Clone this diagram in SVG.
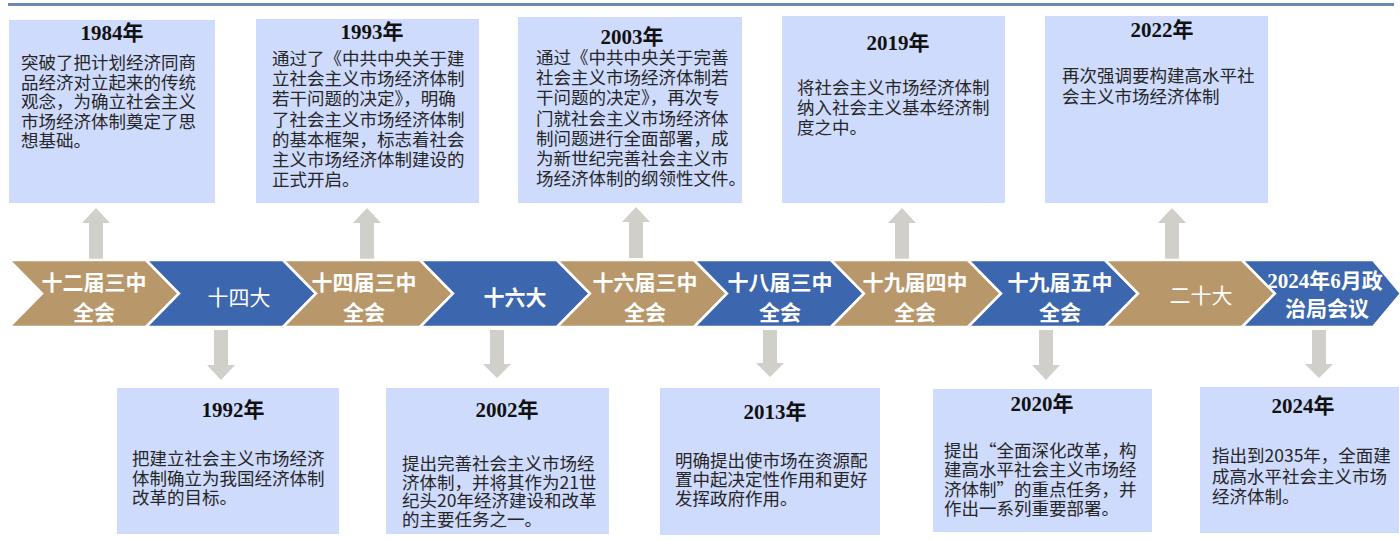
<svg xmlns="http://www.w3.org/2000/svg" width="1400" height="540" viewBox="0 0 1400 540">
<style>
.box{fill:#cfdbfc}
.chev-g{fill:#b8976a;stroke:#ffffff;stroke-width:2.5}
.chev-b{fill:#3c66ae;stroke:#ffffff;stroke-width:2.5}
.arrow{fill:#d1cfca}
.title{font-family:"Liberation Serif","Noto Sans CJK SC",serif;font-weight:bold;font-size:21px;fill:#111111;text-anchor:middle}
.body{font-family:"Noto Sans CJK SC",sans-serif;font-size:17.5px;fill:#262626}
.lab{font-family:"Liberation Serif","Noto Sans CJK SC",serif;font-weight:bold;font-size:21px;fill:#ffffff;text-anchor:middle}
.labn{font-family:"Noto Sans CJK SC",sans-serif;font-weight:normal;font-size:21px;fill:#ffffff;text-anchor:middle}
</style>
<rect x="8" y="3" width="1386" height="3" fill="#6d87b3"/>

<g id="connectors">
<polygon class="arrow" points="96,208 110,223 103,223 103,259 89,259 89,223 82,223"/>
<polygon class="arrow" points="367,208 381,223 374,223 374,259 360,259 360,223 353,223"/>
<polygon class="arrow" points="636,207 650,222 643,222 643,258 629,258 629,222 622,222"/>
<polygon class="arrow" points="902,208 916,223 909,223 909,259 895,259 895,223 888,223"/>
<polygon class="arrow" points="1172,208 1186,223 1179,223 1179,259 1165,259 1165,223 1158,223"/>
<polygon class="arrow" points="214,330 228,330 228,365 235,365 221,380 207,365 214,365"/>
<polygon class="arrow" points="490,330 504,330 504,364 511,364 497,378 483,364 490,364"/>
<polygon class="arrow" points="763,330 777,330 777,363 784,363 770,377 756,363 763,363"/>
<polygon class="arrow" points="1039,330 1053,330 1053,365 1060,365 1046,380 1032,365 1039,365"/>
<polygon class="arrow" points="1312,330 1326,330 1326,364 1333,364 1319,378 1305,364 1312,364"/>
</g>

<g id="chev1"><polygon class="chev-g" points="9,260 146,260 179,293.5 146,327 9,327 42,293.5"/><text class="lab" x="94" y="290">十二届三中</text><text class="lab" x="94" y="320">全会</text></g>
<g id="chev2"><polygon class="chev-b" points="146,260 283,260 316,293.5 283,327 146,327 179,293.5"/><text class="labn" x="239" y="305">十四大</text></g>
<g id="chev3"><polygon class="chev-g" points="283,260 420,260 453,293.5 420,327 283,327 316,293.5"/><text class="lab" x="364" y="290">十四届三中</text><text class="lab" x="364" y="320">全会</text></g>
<g id="chev4"><polygon class="chev-b" points="420,260 557,260 590,293.5 557,327 420,327 453,293.5"/><text class="lab" x="515" y="305">十六大</text></g>
<g id="chev5"><polygon class="chev-g" points="557,260 694,260 727,293.5 694,327 557,327 590,293.5"/><text class="lab" x="645" y="290">十六届三中</text><text class="lab" x="645" y="320">全会</text></g>
<g id="chev6"><polygon class="chev-b" points="694,260 831,260 864,293.5 831,327 694,327 727,293.5"/><text class="lab" x="780" y="290">十八届三中</text><text class="lab" x="780" y="320">全会</text></g>
<g id="chev7"><polygon class="chev-g" points="831,260 968,260 1001,293.5 968,327 831,327 864,293.5"/><text class="lab" x="915" y="290">十九届四中</text><text class="lab" x="915" y="320">全会</text></g>
<g id="chev8"><polygon class="chev-b" points="968,260 1105,260 1138,293.5 1105,327 968,327 1001,293.5"/><text class="lab" x="1060" y="290">十九届五中</text><text class="lab" x="1060" y="320">全会</text></g>
<g id="chev9"><polygon class="chev-g" points="1105,260 1242,260 1275,293.5 1242,327 1105,327 1138,293.5"/><text class="labn" x="1201" y="303">二十大</text></g>
<g id="chev10"><polygon class="chev-b" points="1242,260 1373,260 1401,293.5 1373,327 1242,327 1275,293.5"/><text class="lab" x="1325" y="288">2024年6月政</text><text class="lab" x="1327" y="316">治局会议</text></g>

<g id="box1984"><rect class="box" x="9" y="20" width="206" height="183"/><text class="title" x="112" y="40">1984年</text>
<text class="body" x="21" y="69">突破了把计划经济同商<tspan x="21" dy="19.6">品经济对立起来的传统</tspan><tspan x="21" dy="19.6">观念，为确立社会主义</tspan><tspan x="21" dy="19.6">市场经济体制奠定了思</tspan><tspan x="21" dy="19.6">想基础。</tspan></text></g>

<g id="box1993"><rect class="box" x="256" y="19" width="223" height="184"/><text class="title" x="372" y="39">1993年</text>
<text class="body" x="272" y="65">通过了《中共中央关于建<tspan x="272" dy="20.2">立社会主义市场经济体制</tspan><tspan x="272" dy="20.2">若干问题的决定》，明确</tspan><tspan x="272" dy="20.2">了社会主义市场经济体制</tspan><tspan x="272" dy="20.2">的基本框架，标志着社会</tspan><tspan x="272" dy="20.2">主义市场经济体制建设的</tspan><tspan x="272" dy="20.2">正式开启。</tspan></text></g>

<g id="box2003"><rect class="box" x="518" y="17" width="224" height="186"/><text class="title" x="632" y="44">2003年</text>
<text class="body" x="536" y="64">通过《中共中央关于完善<tspan x="536" dy="20.2">社会主义市场经济体制若</tspan><tspan x="536" dy="20.2">干问题的决定》，再次专</tspan><tspan x="536" dy="20.2">门就社会主义市场经济体</tspan><tspan x="536" dy="20.2">制问题进行全面部署，成</tspan><tspan x="536" dy="20.2">为新世纪完善社会主义市</tspan><tspan x="536" dy="20.2">场经济体制的纲领性文件。</tspan></text></g>

<g id="box2019"><rect class="box" x="782" y="16" width="223" height="187"/><text class="title" x="898" y="50">2019年</text>
<text class="body" x="797" y="94">将社会主义市场经济体制<tspan x="797" dy="20">纳入社会主义基本经济制</tspan><tspan x="797" dy="20">度之中。</tspan></text></g>

<g id="box2022"><rect class="box" x="1045" y="16" width="223" height="187"/><text class="title" x="1162" y="37">2022年</text>
<text class="body" x="1062" y="82">再次强调要构建高水平社<tspan x="1062" dy="21">会主义市场经济体制</tspan></text></g>

<g id="box1992"><rect class="box" x="117" y="388" width="222" height="146"/><text class="title" x="233" y="417">1992年</text>
<text class="body" x="132" y="465">把建立社会主义市场经济<tspan x="132" dy="19.5">体制确立为我国经济体制</tspan><tspan x="132" dy="19.5">改革的目标。</tspan></text></g>

<g id="box2002"><rect class="box" x="386" y="388" width="223" height="146"/><text class="title" x="507" y="417">2002年</text>
<text class="body" x="402" y="470">提出完善社会主义市场经<tspan x="402" dy="18.5">济体制，并将其作为21世</tspan><tspan x="402" dy="18.5">纪头20年经济建设和改革</tspan><tspan x="402" dy="18.5">的主要任务之一。</tspan></text></g>

<g id="box2013"><rect class="box" x="660" y="388" width="220" height="147"/><text class="title" x="775" y="419">2013年</text>
<text class="body" x="675" y="467">明确提出使市场在资源配<tspan x="675" dy="18.8">置中起决定性作用和更好</tspan><tspan x="675" dy="18.8">发挥政府作用。</tspan></text></g>

<g id="box2020"><rect class="box" x="933" y="389" width="219" height="143"/><text class="title" x="1042" y="411">2020年</text>
<text class="body" x="944" y="457">提出“全面深化改革，构<tspan x="944" dy="19.3">建高水平社会主义市场经</tspan><tspan x="944" dy="19.3">济体制”的重点任务，并</tspan><tspan x="944" dy="19.3">作出一系列重要部署。</tspan></text></g>

<g id="box2024"><rect class="box" x="1200" y="387" width="199" height="146"/><text class="title" x="1303" y="413">2024年</text>
<text class="body" x="1212" y="462">指出到2035年，全面建<tspan x="1212" dy="20.5">成高水平社会主义市场</tspan><tspan x="1212" dy="20.5">经济体制。</tspan></text></g>
</svg>
